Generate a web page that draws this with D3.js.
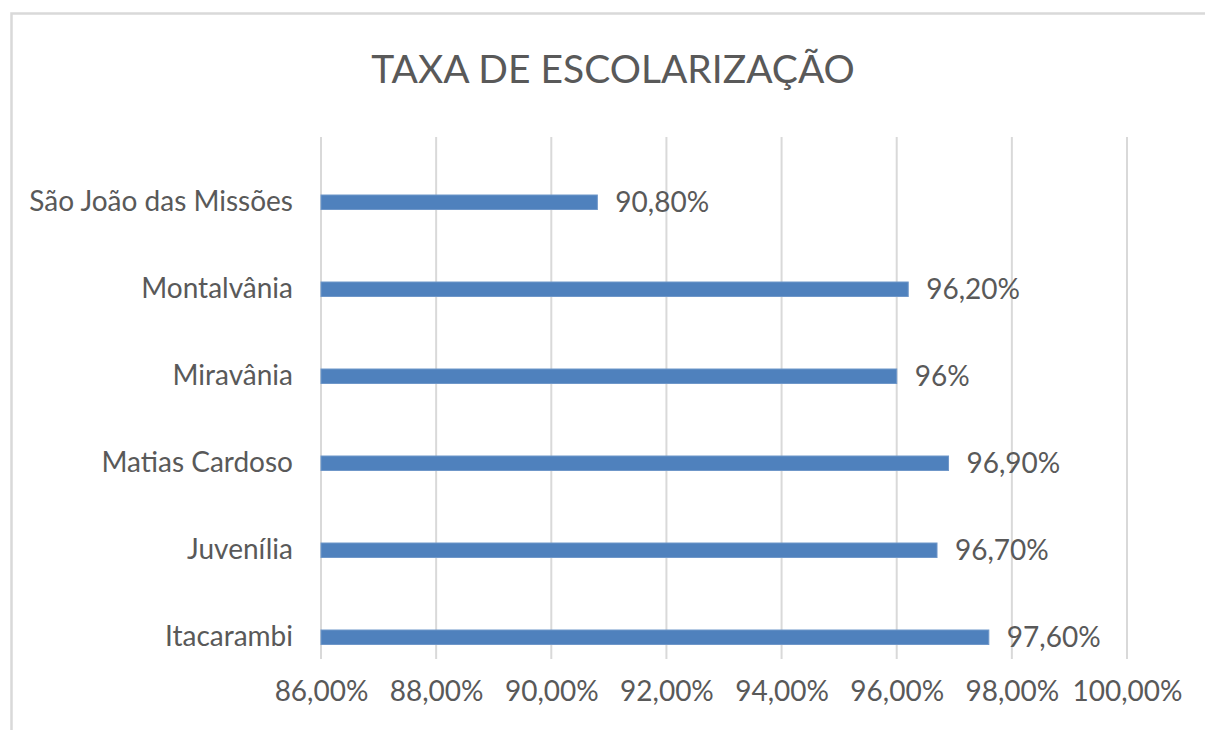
<!DOCTYPE html>
<html>
<head>
<meta charset="utf-8">
<script src="https://cdn.jsdelivr.net/npm/d3@7"></script>
<style>
  body { margin: 0; background: #fff; }
  text { font-family: Lato, "Open Sans", sans-serif; fill: #595959; }
</style>
</head>
<body>
<div class="container"></div>
<script>
const categories = ["São João das Missões", "Montalvânia", "Miravânia", "Matias Cardoso", "Juvenília", "Itacarambi"]
const values = [90.8, 96.2, 96.0, 96.9, 96.7, 97.6]
const valueLabels = ["90,80%", "96,20%", "96%", "96,90%", "96,70%", "97,60%"]
const xTicks = [86, 88, 90, 92, 94, 96, 98, 100]
const title = "TAXA DE ESCOLARIZAÇÃO"

const w = 1205
const h = 730

const svg = d3.select(".container")
              .append("svg")
              .attr("width", w)
              .attr("height", h)

// chart frame (cut off at right and bottom like the screenshot)
svg.append("rect")
   .attr("x", 11.5)
   .attr("y", 13.5)
   .attr("width", 1300)
   .attr("height", 900)
   .attr("fill", "none")
   .attr("stroke", "#d9d9d9")
   .attr("stroke-width", 2.5)

svg.append("text")
   .attr("x", 613)
   .attr("y", 83)
   .attr("text-anchor", "middle")
   .style("font-size", "39px")
   .text(title)

const xScale = d3.scaleLinear()
                 .domain([86, 100])
                 .range([321, 1127])

const yScale = d3.scaleBand()
                 .domain(categories)
                 .range([137, 659])

// gridlines
svg.append("g")
   .selectAll("line")
   .data(xTicks)
   .enter()
   .append("line")
   .attr("x1", d => xScale(d))
   .attr("x2", d => xScale(d))
   .attr("y1", 137)
   .attr("y2", 659)
   .attr("stroke", "#d9d9d9")
   .attr("stroke-width", 2)

// bars sit in the lower part of each band (Excel cluster slot)
const barH = yScale.bandwidth() / 6
svg.selectAll("rect.bar")
   .data(values)
   .enter()
   .append("rect")
   .attr("class", "bar")
   .attr("x", xScale(86))
   .attr("y", (d, i) => yScale(categories[i]) + yScale.bandwidth() * 0.75 - barH / 2)
   .attr("width", d => xScale(d) - xScale(86))
   .attr("height", barH)
   .attr("fill", "#4f81bd")
   .attr("stroke", "#6f97c9")
   .attr("stroke-width", 1)

svg.selectAll("text.value")
   .data(values)
   .enter()
   .append("text")
   .attr("class", "value")
   .attr("x", d => xScale(d) + 18)
   .attr("y", (d, i) => yScale(categories[i]) + yScale.bandwidth() * 0.75)
   .attr("dy", "0.36em")
   .style("font-size", "28px")
   .text((d, i) => valueLabels[i])

// category labels
const yAxis = d3.axisLeft(yScale).tickSize(0).tickPadding(28)
const yg = svg.append("g")
   .attr("transform", `translate(${xScale(86)}, ${yScale.bandwidth() * 0.25})`)
   .call(yAxis)
yg.select(".domain").remove()
yg.selectAll("text").style("font-size", "28px").attr("fill", "#595959")

// value axis labels
const xAxis = d3.axisBottom(xScale)
                .tickValues(xTicks)
                .tickSize(0)
                .tickPadding(22)
                .tickFormat(d => d.toFixed(2).replace(".", ",") + "%")
const xg = svg.append("g")
   .attr("transform", `translate(0, 659)`)
   .call(xAxis)
xg.select(".domain").remove()
xg.selectAll("text").style("font-size", "28px").attr("fill", "#595959")
</script>
</body>
</html>
